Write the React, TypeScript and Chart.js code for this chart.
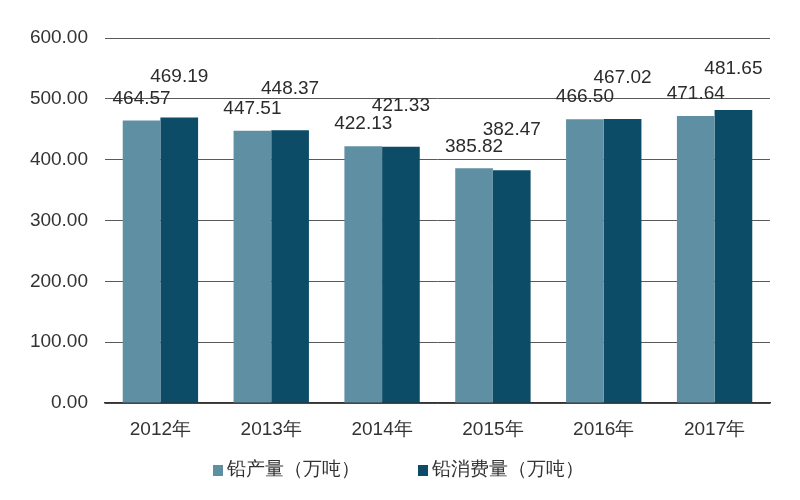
import React, { useEffect, useRef } from "react";
import { Chart, registerables } from "chart.js";

Chart.register(...registerables);

const categories = ["2012年", "2013年", "2014年", "2015年", "2016年", "2017年"];
const production = [464.57, 447.51, 422.13, 385.82, 466.5, 471.64];
const consumption = [469.19, 448.37, 421.33, 382.47, 467.02, 481.65];
const seriesNames = ["铅产量（万吨）", "铅消费量（万吨）"];
const seriesColors = ["#5f8fa3", "#0d4c66"];
const labelOffsets = [22, 41];

const FONT = "'Liberation Sans', Arial, sans-serif";

const labelPlugin = {
  id: "barLabels",
  afterDatasetsDraw(chart: any) {
    const ctx = chart.ctx;
    ctx.save();
    ctx.font = `19px ${FONT}`;
    ctx.fillStyle = "#2b2b2b";
    ctx.textAlign = "center";
    ctx.textBaseline = "middle";
    chart.data.datasets.forEach((ds: any, i: number) => {
      const meta = chart.getDatasetMeta(i);
      meta.data.forEach((bar: any, j: number) => {
        const v = ds.data[j] as number;
        ctx.fillText(v.toFixed(2), bar.x, bar.y - labelOffsets[i]);
      });
    });
    ctx.restore();
  },
};

const legendPlugin = {
  id: "customLegend",
  afterDraw(chart: any) {
    const ctx = chart.ctx;
    ctx.save();
    ctx.font = `19px ${FONT}`;
    ctx.textBaseline = "middle";
    ctx.textAlign = "left";
    const y = 470;
    const starts = [213, 418];
    chart.data.datasets.forEach((ds: any, i: number) => {
      const x = starts[i];
      ctx.fillStyle = ds.backgroundColor;
      ctx.fillRect(x, y - 5, 10, 11);
      ctx.fillStyle = "#333";
      ctx.fillText(ds.label, x + 14, y);
    });
    ctx.restore();
  },
};

export default function App() {
  const ref = useRef<HTMLCanvasElement>(null);
  useEffect(() => {
    const chart = new Chart(ref.current!, {
      type: "bar",
      data: {
        labels: categories,
        datasets: [
          {
            label: seriesNames[0],
            data: production,
            backgroundColor: seriesColors[0],
            barPercentage: 1,
            categoryPercentage: 0.68,
          },
          {
            label: seriesNames[1],
            data: consumption,
            backgroundColor: seriesColors[1],
            barPercentage: 1,
            categoryPercentage: 0.68,
          },
        ],
      },
      options: {
        animation: false,
        responsive: false,
        maintainAspectRatio: false,
        layout: { padding: { top: 38, right: 30, left: 0, bottom: 0 } },
        plugins: {
          legend: { display: false },
          tooltip: { enabled: false },
        },
        scales: {
          x: {
            afterFit: (s: any) => {
              s.height = 97;
            },
            grid: { display: false },
            border: { display: true, color: "#333", width: 1.5 },
            ticks: { color: "#333", font: { size: 19, family: FONT }, padding: 7 },
          },
          y: {
            min: 0,
            max: 600,
            afterFit: (s: any) => {
              s.width = 105;
            },
            grid: { color: "#5a5a5a", lineWidth: 1, drawTicks: false },
            border: { display: false },
            ticks: {
              stepSize: 100,
              color: "#333",
              padding: 17,
              font: { size: 19, family: FONT },
              callback: (v: any) => Number(v).toFixed(2),
            },
          },
        },
      },
      plugins: [labelPlugin, legendPlugin],
    });
    return () => chart.destroy();
  }, []);
  return (
    <div style={{ position: "fixed", left: 0, top: 0, width: 800, height: 500, background: "#fff" }}>
      <canvas ref={ref} width={800} height={500} />
    </div>
  );
}
